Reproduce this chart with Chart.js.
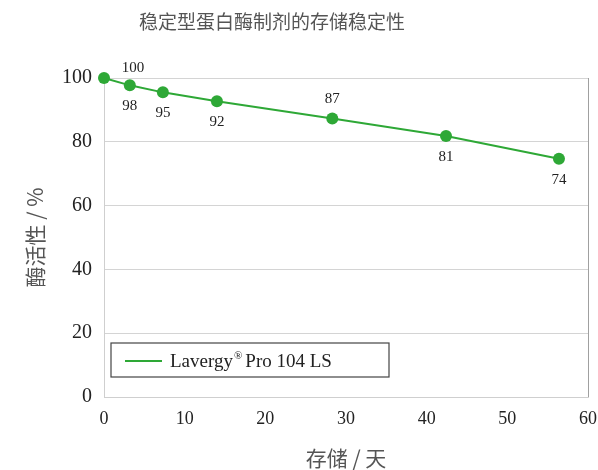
<!DOCTYPE html>
<html>
<head>
<meta charset="utf-8">
<script src="https://cdn.jsdelivr.net/npm/chart.js@4/dist/chart.umd.min.js"></script>
<style>
  body { margin: 0; background: #fff; }
</style>
</head>
<body>
<canvas id="chart" width="598" height="470"></canvas>
<script>
'use strict';

// storage days and remaining activity (%)
const days = [0, 3.2, 7.3, 14, 28.3, 42.4, 56.4];
const activity = [100, 97.7, 95.5, 92.7, 87.3, 81.8, 74.7];
const pointLabels = ['100', '98', '95', '92', '87', '81', '74'];
const xTicks = [0, 10, 20, 30, 40, 50, 60];
const yTicks = [0, 20, 40, 60, 80, 100];
const chartTitle = '稳定型蛋白酶制剂的存储稳定性';

const green = '#2ea836';
const serif = '"Liberation Serif", "Times New Roman", serif';
const cjk = '"Noto Sans CJK SC", sans-serif';

// where each value label sits relative to its point
const labelSpots = ['rightUp', 'below', 'below', 'below', 'above', 'below', 'below'];

const valueLabels = {
  id: 'valueLabels',
  afterDatasetsDraw(chart) {
    const ctx = chart.ctx;
    const meta = chart.getDatasetMeta(0);
    ctx.save();
    ctx.font = '15px ' + serif;
    ctx.fillStyle = '#222';
    ctx.textAlign = 'center';
    ctx.textBaseline = 'middle';
    meta.data.forEach((pt, i) => {
      let dx = 0, dy = 21;
      if (labelSpots[i] === 'above') dy = -19;
      if (labelSpots[i] === 'rightUp') { dx = 29; dy = -10; }
      ctx.fillText(pointLabels[i], pt.x + dx, pt.y + dy);
    });
    ctx.restore();
  }
};

// title sits a bit left of the canvas centre in the original
const topTitle = {
  id: 'topTitle',
  afterDraw(chart) {
    const ctx = chart.ctx;
    ctx.save();
    ctx.font = '19px ' + cjk;
    ctx.fillStyle = '#555';
    ctx.textAlign = 'center';
    ctx.textBaseline = 'middle';
    ctx.fillText(chartTitle, 272, 22);
    ctx.restore();
  }
};

// legend box drawn inside the plot, lower left
const boxLegend = {
  id: 'boxLegend',
  afterDraw(chart) {
    const ctx = chart.ctx;
    const a = chart.chartArea;
    const x = a.left + 7, y = a.bottom - 54, w = 278, h = 34;
    ctx.save();
    ctx.fillStyle = '#fff';
    ctx.fillRect(x, y, w, h);
    ctx.strokeStyle = '#444';
    ctx.lineWidth = 1.2;
    ctx.strokeRect(x, y, w, h);
    ctx.strokeStyle = green;
    ctx.lineWidth = 2;
    ctx.beginPath();
    ctx.moveTo(x + 14, y + 18);
    ctx.lineTo(x + 51, y + 18);
    ctx.stroke();
    ctx.fillStyle = '#222';
    ctx.textBaseline = 'alphabetic';
    ctx.font = '19px ' + serif;
    let tx = x + 59;
    const by = y + 24;
    ctx.fillText('Lavergy', tx, by);
    tx += ctx.measureText('Lavergy').width + 1;
    ctx.font = '11px ' + serif;
    ctx.fillText('®', tx, by - 8);
    tx += ctx.measureText('®').width + 3;
    ctx.font = '19px ' + serif;
    ctx.fillText('Pro 104 LS', tx, by);
    ctx.restore();
  }
};

new Chart(document.getElementById('chart'), {
  type: 'line',
  data: {
    datasets: [{
      label: 'Lavergy® Pro 104 LS',
      data: days.map((d, i) => ({ x: d, y: activity[i] })),
      borderColor: green,
      backgroundColor: green,
      borderWidth: 2,
      pointRadius: 6,
      pointHoverRadius: 6,
      pointBorderWidth: 0,
      tension: 0,
      clip: false
    }]
  },
  options: {
    responsive: false,
    animation: false,
    layout: { padding: { left: 0, right: 0, top: 78, bottom: 0 } },
    plugins: {
      legend: { display: false },
      tooltip: { enabled: false },
      title: { display: false }
    },
    scales: {
      x: {
        type: 'linear',
        min: 0,
        max: 60,
        afterBuildTicks: s => { s.ticks = xTicks.map(v => ({ value: v })); },
        afterFit: s => { s.height = 73; s.paddingLeft = 0; s.paddingRight = 10; },
        ticks: { color: '#222', font: { family: serif, size: 18 }, padding: 11, maxRotation: 0 },
        grid: {
          drawTicks: false,
          color: c => (c.tick && c.tick.value === 60 ? '#a0a0a0' : 'rgba(0,0,0,0)')
        },
        border: { color: '#cfcfcf' },
        title: {
          display: true,
          text: '存储 / 天',
          color: '#555',
          font: { family: cjk, size: 21, weight: 'normal', lineHeight: 1.2 },
          padding: { top: 0, bottom: -1 }
        }
      },
      y: {
        min: 0,
        max: 100,
        afterBuildTicks: s => { s.ticks = yTicks.map(v => ({ value: v })); },
        afterFit: s => { s.width = 104; },
        ticks: { color: '#222', font: { family: serif, size: 20 }, padding: 12 },
        grid: { drawTicks: false, color: '#d4d4d4' },
        border: { color: '#cfcfcf' },
        title: {
          display: true,
          text: '酶活性 / %',
          color: '#555',
          font: { family: cjk, size: 21, weight: 'normal', lineHeight: 1.2 },
          padding: { top: 22, bottom: 0 }
        }
      }
    }
  },
  plugins: [valueLabels, boxLegend, topTitle]
});
</script>
</body>
</html>
